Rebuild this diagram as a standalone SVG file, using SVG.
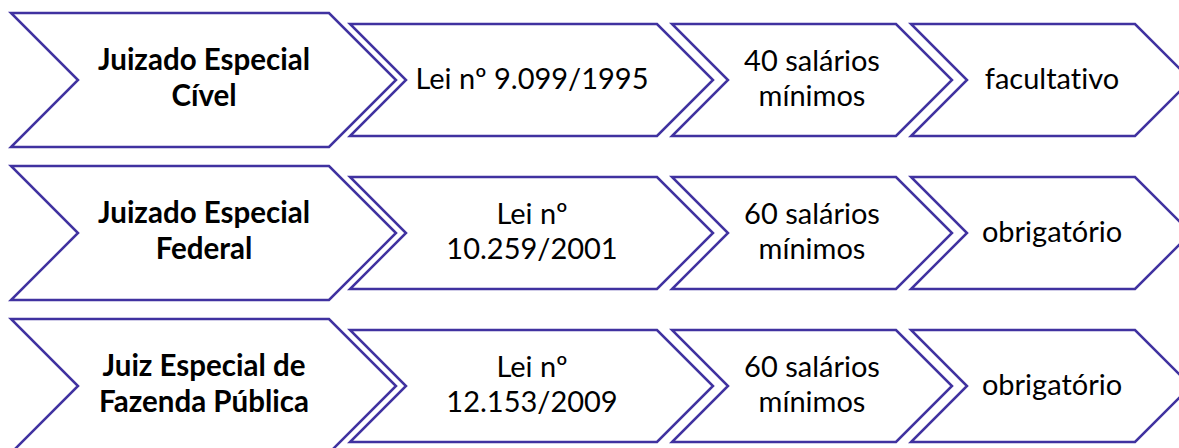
<svg xmlns="http://www.w3.org/2000/svg" width="1179" height="448" viewBox="0 0 1179 448">
<style>
.c{fill:#fff;stroke:#4032A0;stroke-width:2.5;stroke-linejoin:miter}
.t{font-family:Lato,"Liberation Sans",sans-serif;font-size:29px;fill:#000;text-anchor:middle;font-variant-ligatures:none}
.b{font-weight:bold;font-size:29.5px}
</style>
<rect width="1179" height="448" fill="#fff"/>
<defs>
<polygon id="big" class="c" points="11,13 329,13 396,80 329,147 11,147 78,80"/>
<polygon id="s2" class="c" points="350,24 657,24 713,80 657,136 350,136 406,80"/>
<polygon id="s3" class="c" points="672,24 896,24 952,80 896,136 672,136 728,80"/>
<polygon id="s4" class="c" points="911,24 1135,24 1191,80 1135,136 911,136 967,80"/>
</defs>
<g id="row1">
<g id="r1c1"><use href="#big"/><text class="t b" x="204" y="70">Juizado Especial</text><text class="t b" x="204" y="106">Cível</text></g>
<g id="r1c2"><use href="#s2"/><text class="t" x="532" y="89">Lei nº 9.099/1995</text></g>
<g id="r1c3"><use href="#s3"/><text class="t" x="812" y="71">40 salários</text><text class="t" x="812" y="106">mínimos</text></g>
<g id="r1c4"><use href="#s4"/><text class="t" x="1052" y="89">facultativo</text></g>
</g>
<g id="row2" transform="translate(0,153)">
<g id="r2c1"><use href="#big"/><text class="t b" x="204" y="70">Juizado Especial</text><text class="t b" x="204" y="106">Federal</text></g>
<g id="r2c2"><use href="#s2"/><text class="t" x="532" y="71">Lei nº</text><text class="t" x="532" y="106">10.259/2001</text></g>
<g id="r2c3"><use href="#s3"/><text class="t" x="812" y="71">60 salários</text><text class="t" x="812" y="106">mínimos</text></g>
<g id="r2c4"><use href="#s4"/><text class="t" x="1052" y="89">obrigatório</text></g>
</g>
<g id="row3" transform="translate(0,306)">
<g id="r3c1"><use href="#big"/><text class="t b" x="204" y="70">Juiz Especial de</text><text class="t b" x="204" y="106">Fazenda Pública</text></g>
<g id="r3c2"><use href="#s2"/><text class="t" x="532" y="71">Lei nº</text><text class="t" x="532" y="106">12.153/2009</text></g>
<g id="r3c3"><use href="#s3"/><text class="t" x="812" y="71">60 salários</text><text class="t" x="812" y="106">mínimos</text></g>
<g id="r3c4"><use href="#s4"/><text class="t" x="1052" y="89">obrigatório</text></g>
</g>
<g id="connectors"/>
</svg>
